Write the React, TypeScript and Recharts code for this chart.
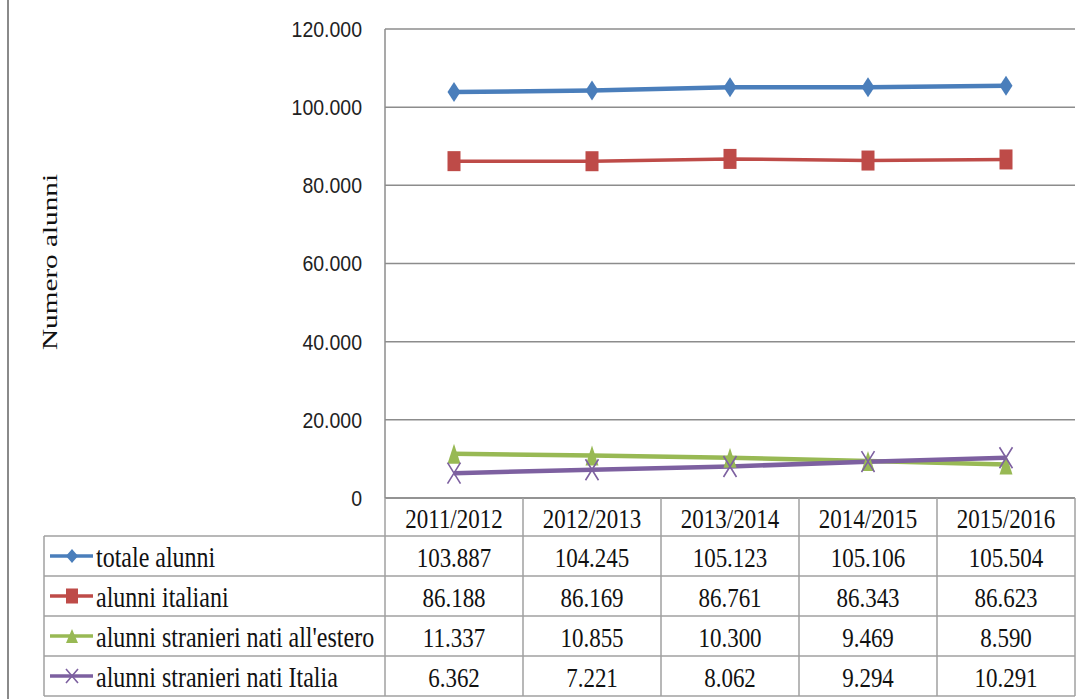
import React from 'react';
import { LineChart, Line, XAxis, YAxis, CartesianGrid } from 'recharts';

// school years (table header / x categories)
const categories = ['2011/2012', '2012/2013', '2013/2014', '2014/2015', '2015/2016'];

// series values
const totaleAlunni = [103887, 104245, 105123, 105106, 105504];
const alunniItaliani = [86188, 86169, 86761, 86343, 86623];
const stranieriEstero = [11337, 10855, 10300, 9469, 8590];
const stranieriItalia = [6362, 7221, 8062, 9294, 10291];

const yTicks = [0, 20000, 40000, 60000, 80000, 100000, 120000];

const COLORS = {
  blue: '#4A7EBB',
  red: '#BE4B48',
  green: '#98B954',
  purple: '#7D60A0',
  grid: '#8C8C8C',
  border: '#A0A0A0',
};

const SERIES = [
  { key: 'totale', name: 'totale alunni', values: totaleAlunni, color: COLORS.blue, marker: 'diamond', width: 4.5 },
  { key: 'italiani', name: 'alunni italiani', values: alunniItaliani, color: COLORS.red, marker: 'square', width: 3.5 },
  { key: 'estero', name: "alunni stranieri nati all'estero", values: stranieriEstero, color: COLORS.green, marker: 'triangle', width: 4.5 },
  { key: 'italia', name: 'alunni stranieri nati Italia', values: stranieriItalia, color: COLORS.purple, marker: 'cross', width: 4.5 },
];

const data = categories.map((c, i) => ({
  year: c,
  totale: totaleAlunni[i],
  italiani: alunniItaliani[i],
  estero: stranieriEstero[i],
  italia: stranieriItalia[i],
}));

const fmt = (n: number) => String(n).replace(/\B(?=(\d{3})+(?!\d))/g, '.');

const SERIF = '"Liberation Serif", "Times New Roman", serif';
const SANS = '"Liberation Sans", Arial, sans-serif';

// layout
const PLOT_LEFT = 385;
const PLOT_RIGHT = 1075;
const PLOT_TOP = 29;
const PLOT_BOTTOM = 498;
const COL_W = (PLOT_RIGHT - PLOT_LEFT) / categories.length;
const ROWS = [536, 576, 616, 656, 696];
const TABLE_LEFT = 44;

function Marker({ type, cx, cy, color, w, h }: any) {
  if (cx == null || cy == null) return null;
  if (type === 'diamond') {
    return <path d={`M${cx},${cy - h / 2} L${cx + w / 2},${cy} L${cx},${cy + h / 2} L${cx - w / 2},${cy} Z`} fill={color} />;
  }
  if (type === 'square') {
    return <rect x={cx - w / 2} y={cy - h / 2} width={w} height={h} fill={color} />;
  }
  if (type === 'triangle') {
    return <path d={`M${cx},${cy - h / 2} L${cx + w / 2},${cy + h / 2} L${cx - w / 2},${cy + h / 2} Z`} fill={color} />;
  }
  return (
    <path
      d={`M${cx - w / 2},${cy - h / 2} L${cx + w / 2},${cy + h / 2} M${cx + w / 2},${cy - h / 2} L${cx - w / 2},${cy + h / 2}`}
      stroke={color}
      strokeWidth={1.6}
      fill="none"
    />
  );
}

function CellText({ x, y, children, anchor = 'middle', size = 23 }: any) {
  return (
    <g transform={`translate(${x},${y}) scale(1,1.2)`}>
      <text textAnchor={anchor} dominantBaseline="central" fontFamily={SERIF} fontSize={size} fill="#111">
        {children}
      </text>
    </g>
  );
}

// header tick: year label plus the column of values under it
function TableColumnTick(props: any) {
  const { x, payload } = props;
  const i = payload.index;
  return (
    <g>
      <CellText x={x} y={(PLOT_BOTTOM + ROWS[0]) / 2 + 1}>{payload.value}</CellText>
      {SERIES.map((s, r) => (
        <CellText key={s.key} x={x} y={(ROWS[r] + ROWS[r + 1]) / 2 + 1}>{fmt(s.values[i])}</CellText>
      ))}
      <line x1={x + COL_W / 2} x2={x + COL_W / 2} y1={PLOT_BOTTOM} y2={ROWS[4]} stroke={COLORS.border} strokeWidth={1.5} />
    </g>
  );
}

function YTick(props: any) {
  const { x, y, payload } = props;
  return (
    <g transform={`translate(${x},${y}) scale(1,1.1)`}>
      <text textAnchor="end" dominantBaseline="central" fontFamily={SANS} fontSize={19.5} fill="#222">
        {fmt(payload.value)}
      </text>
    </g>
  );
}

function TableFrame() {
  return (
    <svg width={1084} height={699} style={{ position: 'absolute', left: 0, top: 0, pointerEvents: 'none' }}>
      <line x1={8} x2={8} y1={0} y2={699} stroke="#8A8A8A" strokeWidth={2} />
      <text
        transform="translate(57,262) rotate(-90)"
        textAnchor="middle"
        fontFamily={SERIF}
        fontSize={22}
        textLength={176}
        lengthAdjust="spacingAndGlyphs"
        fill="#111"
      >
        Numero  alunni
      </text>
      {ROWS.map((y) => (
        <line key={y} x1={TABLE_LEFT} x2={PLOT_RIGHT} y1={y} y2={y} stroke={COLORS.border} strokeWidth={1.5} />
      ))}
      <line x1={TABLE_LEFT} x2={TABLE_LEFT} y1={ROWS[0]} y2={ROWS[4]} stroke={COLORS.border} strokeWidth={1.5} />
      <line x1={PLOT_LEFT} x2={PLOT_LEFT} y1={PLOT_BOTTOM} y2={ROWS[4]} stroke={COLORS.border} strokeWidth={1.5} />
      {SERIES.map((s, r) => {
        const cy = (ROWS[r] + ROWS[r + 1]) / 2;
        return (
          <g key={s.key}>
            <line x1={50} x2={93} y1={cy} y2={cy} stroke={s.color} strokeWidth={3.5} />
            <Marker type={s.marker} cx={72} cy={cy} color={s.color} w={12} h={s.marker === 'square' ? 15 : 14} />
            <CellText x={96} y={cy + 1} anchor="start" size={24}>{s.name}</CellText>
          </g>
        );
      })}
    </svg>
  );
}

export default function App() {
  return (
    <div style={{ position: 'absolute', left: 0, top: 0, width: 1084, height: 699, background: '#fff' }}>
      <LineChart
        width={1084}
        height={699}
        data={data}
        margin={{ top: PLOT_TOP, right: 1084 - PLOT_RIGHT, bottom: 699 - ROWS[4], left: PLOT_LEFT - 80 }}
      >
        <CartesianGrid vertical={false} stroke={COLORS.grid} strokeWidth={1.5} />
        <XAxis
          dataKey="year"
          height={ROWS[4] - PLOT_BOTTOM}
          padding={{ left: COL_W / 2, right: COL_W / 2 }}
          axisLine={{ stroke: COLORS.grid, strokeWidth: 1.5 }}
          tickLine={false}
          tickSize={0}
          tick={<TableColumnTick />}
          interval={0}
        />
        <YAxis
          width={80}
          domain={[0, 120000]}
          ticks={yTicks}
          axisLine={{ stroke: COLORS.grid, strokeWidth: 1.5 }}
          tickLine={false}
          tickSize={0}
          tickMargin={23}
          tick={<YTick />}
        />
        {SERIES.map((s) => (
          <Line
            key={s.key}
            dataKey={s.key}
            name={s.name}
            stroke={s.color}
            strokeWidth={s.width}
            isAnimationActive={false}
            dot={(p: any) => (
              <Marker
                key={`${s.key}-${p.index}`}
                type={s.marker}
                cx={p.cx}
                cy={p.cy}
                color={s.color}
                w={13}
                h={s.marker === 'cross' ? 21 : 20}
              />
            )}
            activeDot={false}
          />
        ))}
      </LineChart>
      <TableFrame />
    </div>
  );
}
